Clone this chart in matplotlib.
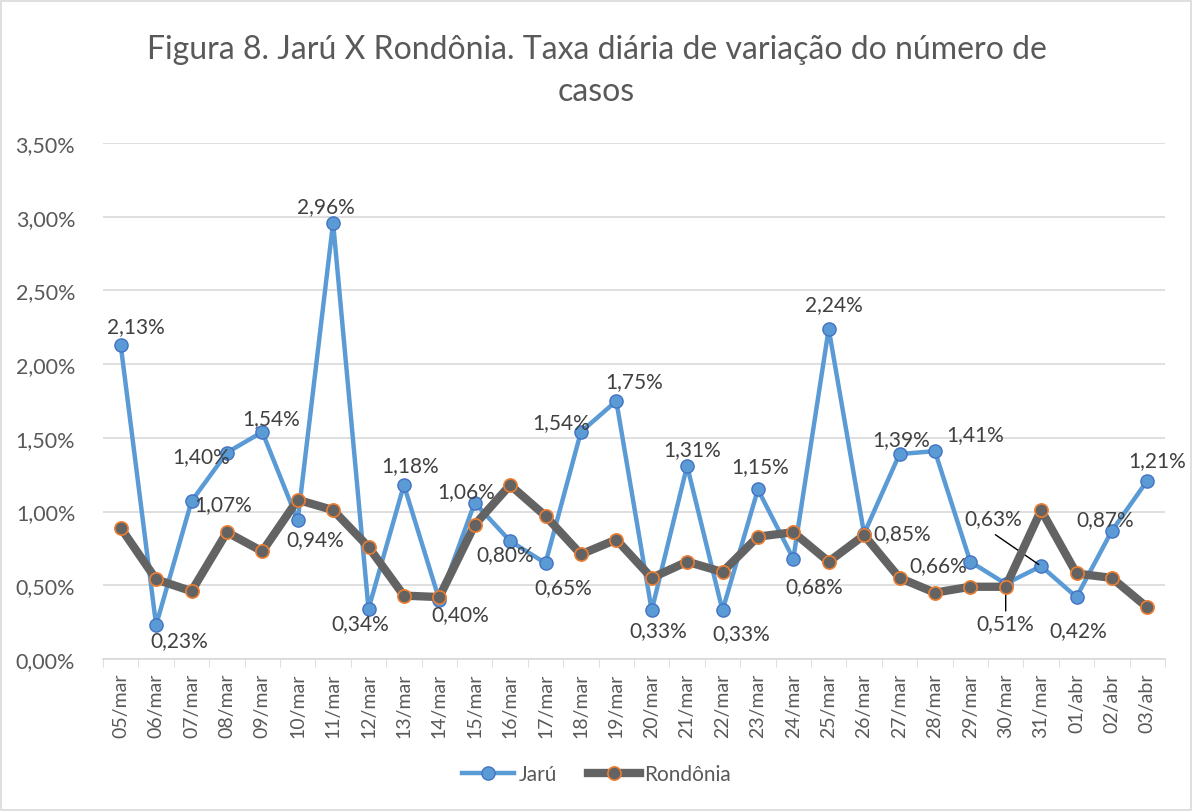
import numpy as np
import matplotlib
matplotlib.use("Agg")
import matplotlib.pyplot as plt
from matplotlib.patches import Rectangle

plt.rcParams['font.family'] = ['Lato', 'DejaVu Sans']

# dados
datas = ['05/mar', '06/mar', '07/mar', '08/mar', '09/mar', '10/mar', '11/mar', '12/mar',
         '13/mar', '14/mar', '15/mar', '16/mar', '17/mar', '18/mar', '19/mar', '20/mar',
         '21/mar', '22/mar', '23/mar', '24/mar', '25/mar', '26/mar', '27/mar', '28/mar',
         '29/mar', '30/mar', '31/mar', '01/abr', '02/abr', '03/abr']
jaru = [2.13, 0.23, 1.07, 1.40, 1.54, 0.94, 2.96, 0.34, 1.18, 0.40,
        1.06, 0.80, 0.65, 1.54, 1.75, 0.33, 1.31, 0.33, 1.15, 0.68,
        2.24, 0.85, 1.39, 1.41, 0.66, 0.51, 0.63, 0.42, 0.87, 1.21]
rondonia = [0.89, 0.54, 0.46, 0.86, 0.73, 1.08, 1.01, 0.76, 0.43, 0.42,
            0.91, 1.18, 0.97, 0.71, 0.81, 0.55, 0.66, 0.59, 0.83, 0.86,
            0.66, 0.84, 0.55, 0.45, 0.49, 0.49, 1.01, 0.58, 0.55, 0.35]
y_ticks = [0, 0.5, 1.0, 1.5, 2.0, 2.5, 3.0, 3.5]

# deslocamento dos rótulos (pixels)
offs = [(15, 19), (23, -15), (32, -3), (-26, -3), (9, 14), (18, -19), (-7, 17), (-8, -14),
        (6, 20), (21, -14), (-9, 12), (-5, -13), (18, -24), (-20, 10), (18, 20), (7, -20),
        (5, 17), (19, -23), (2, 23), (21, -27), (5, 25), (38, 1), (2, 15), (40, 17),
        (-32, -3), (0, -39), (-48, 48), (2, -33), (-7, 12), (10, 21)]

fig = plt.figure(figsize=(11.93, 8.12), dpi=100)
ax = fig.add_axes([103/1193, 1-660/812, (1165-103)/1193, (660-144)/812])

x = np.arange(len(datas))
ax.plot(x, jaru, color='#5B9BD5', lw=3.2, marker='o', ms=9.5,
        mfc='#5B9BD5', mec='#4472C4', mew=1, label='Jarú', zorder=3)
ax.plot(x, rondonia, color='#636363', lw=6, marker='o', ms=9.5,
        mfc='#636363', mec='#ED7D31', mew=1.2, label='Rondônia', zorder=4)

for i, v in enumerate(jaru):
    txt = f'{v:.2f}%'.replace('.', ',')
    ax.annotate(txt, (i, v), xytext=offs[i], textcoords='offset pixels',
                ha='center', va='center', fontsize=15, color='#404040', zorder=5)

# linhas de chamada
ax.annotate('', xy=(26, jaru[26]), xytext=(-48, 33), textcoords='offset pixels',
            xycoords='data', arrowprops=dict(arrowstyle='-', color='black', lw=1))
ax.annotate('', xy=(25, jaru[25] - 0.04), xytext=(0, -24), textcoords='offset pixels',
            arrowprops=dict(arrowstyle='-', color='black', lw=1))

ax.set_xlim(-0.5, len(datas) - 0.5)
ax.set_ylim(0, 3.5)
ax.set_yticks(y_ticks)
ax.set_yticklabels([f'{t:.2f}%'.replace('.', ',') for t in y_ticks])
ax.set_xticks(x)
ax.set_xticklabels(datas, rotation=90)
ax.set_xticks(np.arange(-0.5, len(datas), 1), minor=True)
ax.tick_params(axis='x', which='major', length=0, pad=10, labelsize=14, labelcolor='#595959')
ax.tick_params(axis='x', which='minor', length=6, color='#D9D9D9', direction='out')
ax.tick_params(axis='y', length=0, pad=20, labelsize=15.5, labelcolor='#595959')
ax.grid(axis='y', color='#D9D9D9', lw=1.2)
ax.set_axisbelow(True)
for s in ['left', 'right', 'top']:
    ax.spines[s].set_visible(False)
ax.spines['bottom'].set_color('#D9D9D9')
ax.spines['bottom'].set_linewidth(1.2)

fig.text(0.5, 1-50/812, 'Figura 8. Jarú X Rondônia. Taxa diária de variação do número de',
         ha='center', va='center', fontsize=23, color='#595959')
fig.text(0.5, 1-92/812, 'casos', ha='center', va='center', fontsize=23, color='#595959')

fig.legend(loc='center', bbox_to_anchor=(0.5, 1-775/812), ncol=2, frameon=False,
           fontsize=15, handlelength=2.5, columnspacing=1.5, handletextpad=0.2,
           labelcolor='#595959')

fig.patches.append(Rectangle((0.001, 0.001), 0.997, 0.997, transform=fig.transFigure,
                             fill=False, edgecolor='#D9D9D9', lw=1.2))

fig.savefig('out.png', dpi=100)
